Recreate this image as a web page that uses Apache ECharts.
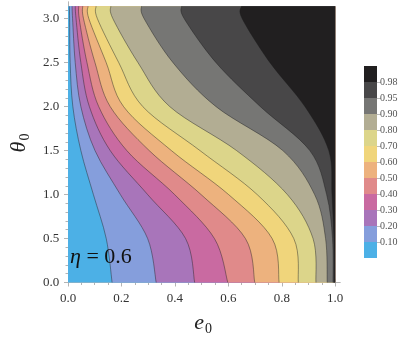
<!DOCTYPE html>
<html>
<head>
<meta charset="utf-8">
<script src="https://cdn.jsdelivr.net/npm/echarts@6/dist/echarts.min.js"></script>
<style>
  html, body { margin: 0; padding: 0; background: #fff; }
  #main { width: 407px; height: 341px; }
</style>
</head>
<body>
<div id="main"></div>
<script>
const thetaSamples = [0, 0.5, 1.0, 1.5, 2.0, 2.5, 3.0, 3.1416];
// e0 of each contour level at those rows
const contour010 = [0.165, 0.143, 0.095, 0.048, 0.018, 0.008, 0.006, 0.005];
const contour020 = [0.330, 0.298, 0.196, 0.101, 0.048, 0.027, 0.017, 0.015];
const contour030 = [0.474, 0.440, 0.298, 0.158, 0.080, 0.048, 0.030, 0.027];
const contour040 = [0.598, 0.548, 0.399, 0.220, 0.115, 0.071, 0.042, 0.040];
const contour050 = [0.699, 0.664, 0.498, 0.304, 0.158, 0.101, 0.058, 0.055];
const contour060 = [0.790, 0.764, 0.601, 0.387, 0.208, 0.143, 0.078, 0.075];
const contour070 = [0.862, 0.845, 0.708, 0.494, 0.280, 0.190, 0.110, 0.105];
const contour080 = [0.928, 0.917, 0.821, 0.631, 0.381, 0.262, 0.168, 0.160];
const contour090 = [0.970, 0.964, 0.923, 0.804, 0.554, 0.393, 0.285, 0.275];
const contour095 = [0.992, 0.990, 0.968, 0.905, 0.720, 0.554, 0.435, 0.425];
const contour098 = [0.997, 0.995, 0.988, 0.976, 0.887, 0.756, 0.652, 0.649];

const levelLabels = ['0.10', '0.20', '0.30', '0.40', '0.50', '0.60', '0.70', '0.80', '0.90', '0.95', '0.98'];
const xTickLabels = [0, 0.2, 0.4, 0.6, 0.8, 1.0];
const yTickLabels = [0, 0.5, 1.0, 1.5, 2.0, 2.5, 3.0];

const bandColors = ['#4cb0e6', '#859edc', '#a875ba', '#c96aa1', '#e08a8a', '#edb27e',
  '#f0d57b', '#dcd58a', '#b2ad93', '#767674', '#484748', '#211f20'];
const contours = [contour010, contour020, contour030, contour040, contour050, contour060,
  contour070, contour080, contour090, contour095, contour098];

const SERIF = 'Liberation Serif';
const FRAME = '#b4b4b4';
const thetaMax = thetaSamples[thetaSamples.length - 1];

// smooth curve through the read points (catmull-rom as cubic beziers)
function curvePath (api, curve) {
  let pts = thetaSamples.map((t, j) => api.coord([curve[j], t]));
  let n = pts.length;
  let d = 'M' + pts[0][0] + ' ' + pts[0][1];
  for (let i = 0; i < n - 1; i++) {
    let p0 = pts[Math.max(i - 1, 0)];
    let p1 = pts[i];
    let p2 = pts[i + 1];
    let p3 = pts[Math.min(i + 2, n - 1)];
    let c1 = [p1[0] + (p2[0] - p0[0]) / 6, p1[1] + (p2[1] - p0[1]) / 6];
    let c2 = [p2[0] - (p3[0] - p1[0]) / 6, p2[1] - (p3[1] - p1[1]) / 6];
    d += ' C' + c1[0] + ' ' + c1[1] + ' ' + c2[0] + ' ' + c2[1] + ' ' + p2[0] + ' ' + p2[1];
  }
  return d;
}

function renderBand (params, api) {
  let k = api.value(0);
  let tr = api.coord([1, thetaMax]);
  let br = api.coord([1, 0]);
  if (k === 0) {
    let bl = api.coord([0, 0]);
    let tl = api.coord([0, thetaMax]);
    return {
      type: 'polygon',
      shape: { points: [bl, tl, tr, br] },
      style: { fill: bandColors[0] }
    };
  }
  let d = curvePath(api, contours[k - 1]);
  return {
    type: 'group',
    children: [
      {
        type: 'path',
        shape: { pathData: d + ' L' + tr[0] + ' ' + tr[1] + ' L' + br[0] + ' ' + br[1] + ' Z' },
        style: { fill: bandColors[k], stroke: null }
      },
      {
        type: 'path',
        shape: { pathData: d },
        style: { fill: null, stroke: 'rgba(30,30,30,0.55)', lineWidth: 0.8 }
      }
    ]
  };
}

function minorTicks (from, to, step, skip) {
  let out = [];
  for (let v = from; v <= to + 1e-9; v += step) {
    let r = Math.round(v * 100) / 100;
    if (Math.abs(r / skip - Math.round(r / skip)) > 1e-6) out.push(r);
  }
  return out;
}

const xMinor = minorTicks(0, 1, 0.05, 0.2);
const yMinor = minorTicks(0, 3.1, 0.1, 0.5);

function frameAxis (extra) {
  return Object.assign({
    type: 'value',
    gridIndex: 0,
    axisLine: { show: true, lineStyle: { color: FRAME, width: 1 } },
    axisTick: { show: true, inside: true, length: 4, lineStyle: { color: FRAME } },
    axisLabel: { show: false },
    splitLine: { show: false }
  }, extra);
}

const labelStyle = { fontFamily: SERIF, fontSize: 13, color: '#333' };

let chart = echarts.init(document.getElementById('main'));
chart.setOption({
  animation: false,
  title: {
    text: '{i|η} = 0.6',
    left: 70,
    top: 246,
    padding: 0,
    textStyle: {
      fontFamily: SERIF, fontSize: 22, fontWeight: 'normal', color: '#111',
      rich: { i: { fontFamily: SERIF, fontSize: 22, fontStyle: 'italic', color: '#111' } }
    }
  },
  grid: [
    { left: 53, right: 67, top: 2, bottom: 52 },
    { left: 364, top: 66, width: 13, height: 192 }
  ],
  xAxis: [
    frameAxis({
      min: -0.007, max: 1.018, position: 'bottom',
      axisTick: { show: true, inside: true, length: 4, lineStyle: { color: FRAME }, customValues: xTickLabels },
      axisLabel: Object.assign({
        show: true, margin: 8, customValues: xTickLabels,
        formatter: v => v.toFixed(1)
      }, labelStyle),
      name: '{a|e}{b|0}',
      nameLocation: 'middle',
      nameGap: 26,
      nameTextStyle: {
        rich: {
          a: { fontFamily: SERIF, fontSize: 22, fontStyle: 'italic', color: '#222' },
          b: { fontFamily: SERIF, fontSize: 14, color: '#222', padding: [12, 0, 0, 1] }
        }
      }
    }),
    frameAxis({
      min: -0.007, max: 1.018, position: 'top',
      axisTick: { show: true, inside: true, length: 4, lineStyle: { color: FRAME }, customValues: xTickLabels }
    }),
    frameAxis({
      min: -0.007, max: 1.018, position: 'bottom', axisLine: { show: false },
      axisTick: { show: true, inside: true, length: 2.5, lineStyle: { color: FRAME }, customValues: xMinor }
    }),
    frameAxis({
      min: -0.007, max: 1.018, position: 'top', axisLine: { show: false },
      axisTick: { show: true, inside: true, length: 2.5, lineStyle: { color: FRAME }, customValues: xMinor }
    }),
    {
      type: 'category', gridIndex: 1, data: ['c'], show: false
    }
  ],
  yAxis: [
    frameAxis({
      min: -0.017, max: 3.19, position: 'left',
      axisTick: { show: true, inside: true, length: 4, lineStyle: { color: FRAME }, customValues: yTickLabels },
      axisLabel: Object.assign({
        show: true, margin: 7, customValues: yTickLabels,
        formatter: v => v.toFixed(1)
      }, labelStyle),
      name: '{a|θ}{b|0}',
      nameLocation: 'middle',
      nameGap: 32,
      nameRotate: 90,
      nameTextStyle: {
        rich: {
          a: { fontFamily: SERIF, fontSize: 22, fontStyle: 'italic', color: '#222' },
          b: { fontFamily: SERIF, fontSize: 14, color: '#222', padding: [12, 0, 0, 1] }
        }
      }
    }),
    frameAxis({
      min: -0.017, max: 3.19, position: 'right',
      axisTick: { show: true, inside: true, length: 4, lineStyle: { color: FRAME }, customValues: yTickLabels }
    }),
    frameAxis({
      min: -0.017, max: 3.19, position: 'left', axisLine: { show: false },
      axisTick: { show: true, inside: true, length: 2.5, lineStyle: { color: FRAME }, customValues: yMinor }
    }),
    frameAxis({
      min: -0.017, max: 3.19, position: 'right', axisLine: { show: false },
      axisTick: { show: true, inside: true, length: 2.5, lineStyle: { color: FRAME }, customValues: yMinor }
    }),
    {
      type: 'value', gridIndex: 1, min: 0, max: 12, position: 'right',
      axisLine: { show: false },
      splitLine: { show: false },
      axisTick: { show: true, length: 4, lineStyle: { color: '#bbb' }, customValues: [1, 2, 3, 4, 5, 6, 7, 8, 9, 10, 11] },
      axisLabel: {
        show: true, margin: 3, fontFamily: SERIF, fontSize: 10, color: '#555',
        customValues: [1, 2, 3, 4, 5, 6, 7, 8, 9, 10, 11],
        formatter: v => levelLabels[Math.round(v) - 1] || ''
      }
    }
  ],
  series: [
    {
      type: 'custom',
      xAxisIndex: 0,
      yAxisIndex: 0,
      renderItem: renderBand,
      silent: true,
      z: 1,
      data: bandColors.map((c, k) => [k])
    }
  ].concat(bandColors.map((c, k) => ({
    type: 'bar',
    xAxisIndex: 4,
    yAxisIndex: 4,
    stack: 'bar',
    barWidth: '100%',
    silent: true,
    itemStyle: { color: c },
    data: [1]
  })))
});
</script>
</body>
</html>
